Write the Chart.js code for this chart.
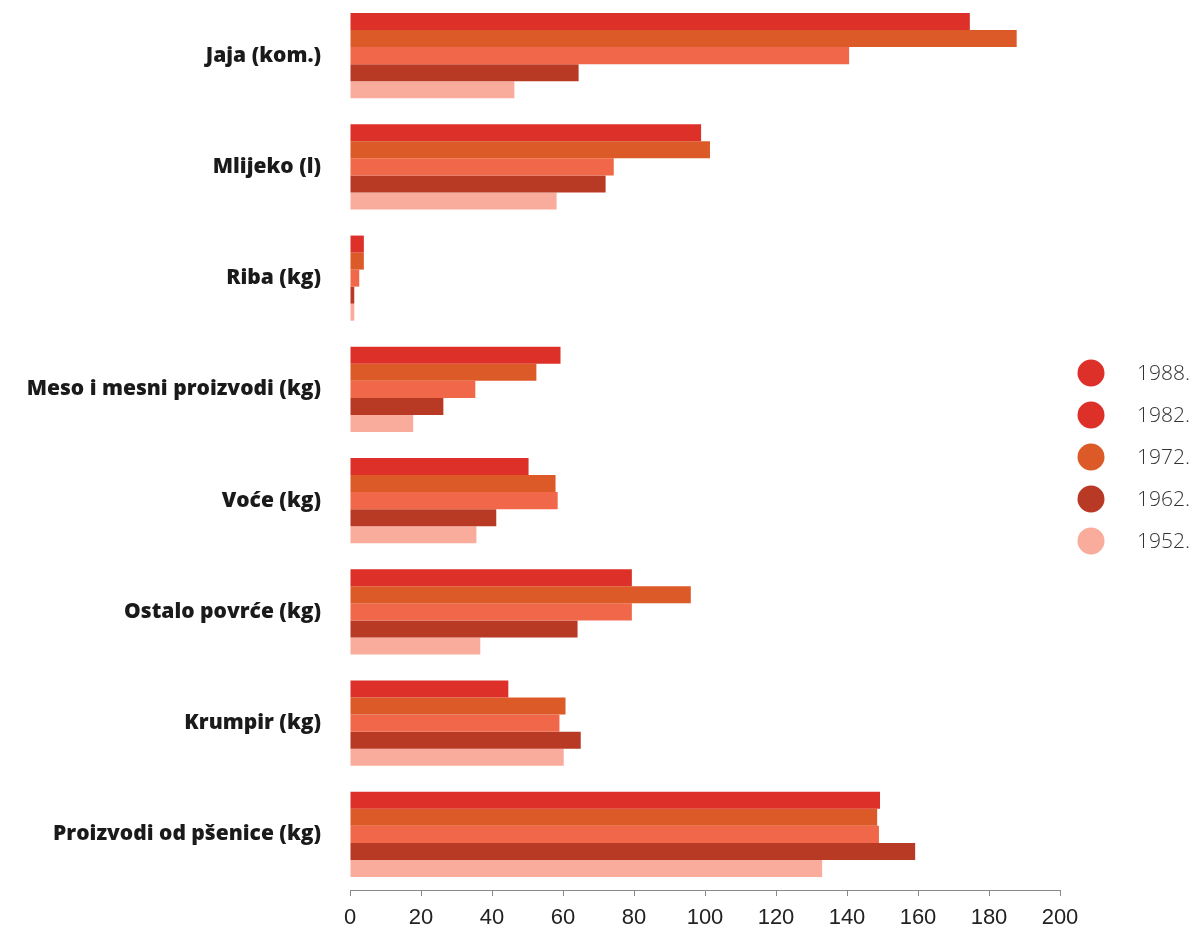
<!DOCTYPE html>
<html>
<head>
<meta charset="utf-8">
<script src="https://cdn.jsdelivr.net/npm/chart.js@4"></script>
<style>
  body { margin: 0; background: #fff; }
  canvas { display: block; }
</style>
</head>
<body>
<canvas id="barChart" width="1197" height="932"></canvas>
<script>
// Kategorije (os y)
const categories = [
  "Jaja (kom.)",
  "Mlijeko (l)",
  "Riba (kg)",
  "Meso i mesni proizvodi (kg)",
  "Voće (kg)",
  "Ostalo povrće (kg)",
  "Krumpir (kg)",
  "Proizvodi od pšenice (kg)"
];

// Vrijednosti po seriji (redoslijed traka odozgo prema dolje)
const values1988 = [174.6, 98.9, 3.9, 59.3, 50.3, 79.4, 44.6, 149.3];
const values1982 = [187.8, 101.4, 3.9, 52.5, 57.9, 96.0, 60.7, 148.5];
const values1972 = [140.6, 74.3, 2.6, 35.3, 58.5, 79.4, 59.0, 149.0];
const values1962 = [64.4, 72.0, 1.2, 26.3, 41.2, 64.1, 65.0, 159.2];
const values1952 = [46.3, 58.2, 1.2, 17.8, 35.6, 36.7, 60.2, 133.0];

const seriesLabels = ["1988.", "1982.", "1972.", "1962.", "1952."];
const barColors = ["#dc3029", "#dc5a28", "#f06849", "#b83a25", "#f9ab9c"];
// legenda na slici koristi ove boje
const legendColors = ["#dc3029", "#dc3029", "#dc5a28", "#b83a25", "#f9ab9c"];

const xTicks = [0, 20, 40, 60, 80, 100, 120, 140, 160, 180, 200];

const allValues = [values1988, values1982, values1972, values1962, values1952];

// Legenda - krugovi desno
const sideLegend = {
  id: "sideLegend",
  afterDraw(chart) {
    const ctx = chart.ctx;
    ctx.save();
    ctx.font = "300 21px 'Open Sans', Lato, sans-serif";
    ctx.textBaseline = "middle";
    ctx.textAlign = "left";
    seriesLabels.forEach((lab, i) => {
      const y = 373 + i * 42;
      ctx.beginPath();
      ctx.arc(1091, y, 13.5, 0, Math.PI * 2);
      ctx.fillStyle = legendColors[i];
      ctx.fill();
      ctx.fillStyle = "#333";
      ctx.fillText(lab, 1137, y + 1);
    });
    ctx.restore();
  }
};

new Chart(document.getElementById("barChart"), {
  type: "bar",
  data: {
    labels: categories,
    datasets: allValues.map((vals, i) => ({
      label: seriesLabels[i],
      data: vals,
      backgroundColor: barColors[i],
      borderWidth: 0,
      categoryPercentage: 0.765,
      barPercentage: 1
    }))
  },
  options: {
    indexAxis: "y",
    responsive: false,
    animation: false,
    layout: { padding: { left: 0, right: 137, top: 0, bottom: 0 } },
    scales: {
      x: {
        min: 0,
        max: 200,
        afterBuildTicks: (scale) => { scale.ticks = xTicks.map(v => ({ value: v })); },
        afterFit: (scale) => { scale.height = 42; },
        grid: { drawOnChartArea: false, drawTicks: true, tickLength: 6, color: "#888" },
        border: { display: true, color: "#888", width: 1 },
        ticks: {
          padding: 9,
          color: "#222",
          font: { family: "'Liberation Sans', Arial, sans-serif", size: 22 }
        }
      },
      y: {
        afterFit: (scale) => {
          scale.width = 350;
          scale.paddingTop = 0;
          scale.paddingBottom = 0;
        },
        grid: { display: false },
        border: { display: false },
        ticks: {
          padding: 21,
          color: "#1a1a1a",
          font: { family: "'Open Sans', sans-serif", size: 21, weight: "800" }
        }
      }
    },
    plugins: {
      legend: { display: false },
      tooltip: { enabled: false }
    }
  },
  plugins: [sideLegend]
});
</script>
</body>
</html>
